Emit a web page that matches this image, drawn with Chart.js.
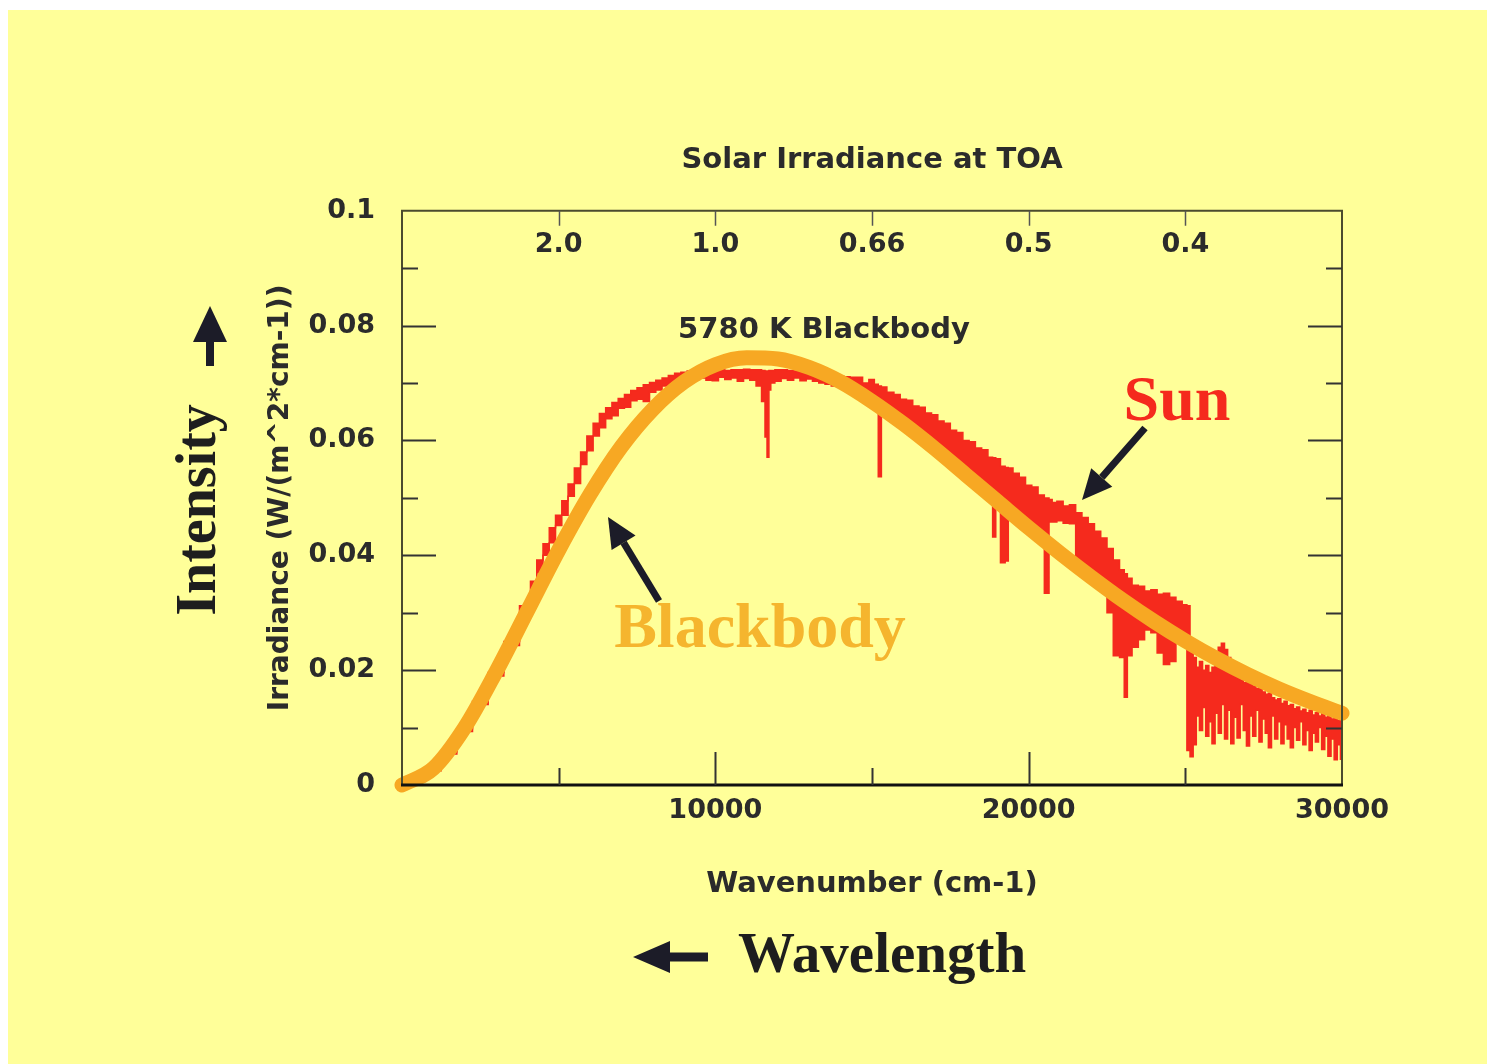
<!DOCTYPE html>
<html>
<head>
<meta charset="utf-8">
<script src="https://cdn.jsdelivr.net/npm/chart.js@4.4.1/dist/chart.umd.min.js"></script>
<style>
html,body{margin:0;padding:0;background:#fff;}
canvas{display:block;}
</style>
</head>
<body>
<canvas id="c" width="1487" height="1064"></canvas>
<script>
// ---------- tick values and labels ----------
const xTickValues = [10000, 20000, 30000];
const xTickLabels = ['10000', '20000', '30000'];
const xMinorTicks = [5000, 15000, 25000];
const yTickValues = [0, 0.02, 0.04, 0.06, 0.08, 0.1];
const yTickLabels = ['0', '0.02', '0.04', '0.06', '0.08', '0.1'];
const yMinorTicks = [0.01, 0.03, 0.05, 0.07, 0.09];
const topTickValues = [5000, 10000, 15000, 20000, 25000];
const topTickLabels = ['2.0', '1.0', '0.66', '0.5', '0.4'];   // wavelength (micron)

// ---------- 5780 K blackbody ----------
const bbWavenumber = [0,1000,2000,3000,4000,5000,6000,7000,8000,9000,10000,11000,12000,13000,14000,15000,
  16000,17000,18000,19000,20000,21000,22000,23000,24000,25000,26000,27000,28000,29000,30000];
const bbIrradiance = [0,0.0029,0.0100,0.0197,0.0303,0.0409,0.0506,0.0589,0.0654,0.0702,0.0732,0.0744,0.0742,0.0727,0.0702,0.0668,
  0.0629,0.0586,0.0540,0.0494,0.0448,0.0404,0.0362,0.0322,0.0285,0.0251,0.0220,0.0192,0.0167,0.0145,0.0125];

// ---------- Sun spectrum: upper and lower envelope ----------
const sunWavenumber = [
  0,500,1000,1500,2000,2500,3000,3500,4000,
  4200,4400,4600,4800,5000,5200,5400,5600,5800,6000,
  6200,6400,6600,6800,7000,7200,7400,7600,7800,8000,
  8200,8400,8600,8800,9000,
  9200,9400,9600,9800,10000,10200,10400,10600,10800,11000,
  11200,11400,11550,11620,11680,11740,11800,12000,12200,12400,
  12600,12800,13000,13200,13400,13600,13800,14000,14200,14400,
  14600,14800,15000,15150,15250,15350,15600,15800,16000,16200,
  16400,16600,16800,17000,17200,17400,17600,17800,18000,18200,
  18400,18600,18800,18900,19000,19200,19300,19400,19600,19800,
  20000,20200,20400,20600,20700,20800,21000,21200,21400,21600,
  21800,22000,22200,22400,22600,22800,23000,23100,23200,23400,
  23600,23800,24000,24200,24400,24600,24800,25000,
  25100,25200,25300,25400,25500,25600,25700,25800,25900,26000,
  26100,26200,26300,26400,26500,26600,26700,26800,26900,27000,
  27100,27200,27300,27400,27500,27600,27700,27800,27900,28000,
  28100,28200,28300,28400,28500,28600,28700,28800,28900,29000,
  29100,29200,29300,29400,29500,29600,29700,29800,29900,30000];
const sunHigh = [
  0,0.0008,0.0028,0.0058,0.0098,0.0146,0.0196,0.0250,0.0312,
  0.0355,0.0392,0.0420,0.0448,0.0470,0.0495,0.0524,0.0552,0.0580,0.0608,
  0.0630,0.0647,0.0657,0.0666,0.0673,0.0680,0.0687,0.0692,0.0697,0.0701,
  0.0705,0.0709,0.0713,0.0717,0.0719,
  0.0721,0.0722,0.0722,0.0723,0.0722,0.0723,0.0722,0.0723,0.0723,0.0724,
  0.0723,0.0723,0.0722,0.0721,0.0721,0.0722,0.0722,0.0723,0.0723,0.0722,
  0.0721,0.0720,0.0719,0.0717,0.0716,0.0714,0.0713,0.0712,0.0711,0.0710,
  0.0710,0.0700,0.0706,0.0698,0.0695,0.0693,0.0684,0.0680,0.0672,0.0670,
  0.0660,0.0658,0.0648,0.0645,0.0634,0.0630,0.0618,0.0614,0.0600,0.0598,
  0.0587,0.0584,0.0571,0.0570,0.0568,0.0555,0.0553,0.0552,0.0543,0.0536,
  0.0522,0.0519,0.0505,0.0500,0.0497,0.0492,0.0494,0.0486,0.0488,0.0474,
  0.0466,0.0455,0.0442,0.0430,0.0412,0.0392,0.0375,0.0368,0.0360,0.0348,
  0.0346,0.0338,0.0340,0.0332,0.0334,0.0327,0.0320,0.0314,
  0.0312,0.0230,0.0222,0.0205,0.0215,0.0200,0.0208,0.0196,0.0205,0.0215,
  0.0240,0.0247,0.0236,0.0222,0.0205,0.0195,0.0188,0.0183,0.0178,0.0182,
  0.0175,0.0172,0.0168,0.0170,0.0162,0.0158,0.0160,0.0152,0.0148,0.0150,
  0.0142,0.0146,0.0138,0.0140,0.0133,0.0136,0.0129,0.0132,0.0126,0.0130,
  0.0122,0.0126,0.0120,0.0124,0.0118,0.0122,0.0115,0.0118,0.0112,0.0115];
const sunLow = [
  0,0.0006,0.0025,0.0054,0.0093,0.0140,0.0190,0.0243,0.0300,
  0.0335,0.0370,0.0400,0.0422,0.0452,0.0470,0.0503,0.0525,0.0558,0.0582,
  0.0608,0.0622,0.0638,0.0643,0.0656,0.0658,0.0669,0.0672,0.0668,0.0684,
  0.0688,0.0695,0.0696,0.0703,0.0704,
  0.0708,0.0706,0.0709,0.0705,0.0704,0.0710,0.0706,0.0709,0.0703,0.0708,
  0.0705,0.0695,0.0668,0.0606,0.0571,0.0688,0.0700,0.0703,0.0708,0.0705,
  0.0709,0.0704,0.0707,0.0703,0.0700,0.0698,0.0695,0.0694,0.0690,0.0688,
  0.0688,0.0676,0.0668,0.0662,0.0537,0.0655,0.0645,0.0637,0.0629,0.0620,
  0.0612,0.0603,0.0595,0.0586,0.0577,0.0568,0.0559,0.0549,0.0540,0.0531,
  0.0522,0.0512,0.0503,0.0432,0.0494,0.0387,0.0390,0.0476,0.0466,0.0457,
  0.0448,0.0439,0.0430,0.0334,0.0458,0.0458,0.0460,0.0456,0.0455,0.0379,
  0.0370,0.0362,0.0354,0.0346,0.0300,0.0225,0.0222,0.0153,0.0225,0.0240,
  0.0253,0.0270,0.0265,0.0230,0.0210,0.0215,0.0250,0.0250,
  0.0060,0.0049,0.0070,0.0120,0.0095,0.0135,0.0085,0.0110,0.0072,0.0125,
  0.0090,0.0140,0.0080,0.0130,0.0072,0.0118,0.0082,0.0140,0.0095,0.0068,
  0.0120,0.0085,0.0130,0.0075,0.0115,0.0090,0.0065,0.0120,0.0080,0.0110,
  0.0072,0.0105,0.0080,0.0065,0.0100,0.0078,0.0110,0.0070,0.0095,0.0060,
  0.0090,0.0075,0.0100,0.0062,0.0085,0.0050,0.0080,0.0044,0.0070,0.0045];

// ---------- styles ----------
const RED = '#F52A1D';
const ORANGE = '#F7A823';
const TEXT = '#2b2b2b';
const SANS = 'DejaVu Sans';
const SERIF = 'Liberation Serif';

function arrow(ctx, x1, y1, x2, y2, w, headLen, headW, color) {
  const ang = Math.atan2(y2 - y1, x2 - x1);
  const bx = x2 - headLen * Math.cos(ang), by = y2 - headLen * Math.sin(ang);
  ctx.strokeStyle = color; ctx.lineWidth = w; ctx.lineCap = 'butt';
  ctx.beginPath(); ctx.moveTo(x1, y1); ctx.lineTo(bx, by); ctx.stroke();
  ctx.fillStyle = color;
  ctx.beginPath(); ctx.moveTo(x2, y2);
  ctx.lineTo(bx + headW * Math.sin(ang), by - headW * Math.cos(ang));
  ctx.lineTo(bx - headW * Math.sin(ang), by + headW * Math.cos(ang));
  ctx.closePath(); ctx.fill();
}

const decor = {
  id: 'decor',
  beforeDraw(chart) {
    const ctx = chart.ctx;
    ctx.save();
    ctx.fillStyle = '#ffffff'; ctx.fillRect(0, 0, chart.width, chart.height);
    ctx.fillStyle = '#FFFF99'; ctx.fillRect(8, 10, chart.width - 8, chart.height - 10);
    ctx.restore();
  },
  afterDatasetsDraw(chart) {
    const {ctx, chartArea: a, scales: {x, y}} = chart;
    ctx.save();
    // frame
    ctx.strokeStyle = '#4b4b2e'; ctx.lineWidth = 2;
    ctx.beginPath();
    ctx.moveTo(a.left, a.bottom); ctx.lineTo(a.left, a.top);
    ctx.lineTo(a.right, a.top); ctx.lineTo(a.right, a.bottom);
    ctx.stroke();
    ctx.strokeStyle = '#111'; ctx.lineWidth = 3;
    ctx.beginPath(); ctx.moveTo(a.left - 1, a.bottom); ctx.lineTo(a.right + 1, a.bottom); ctx.stroke();
    // inside ticks, y (left and right)
    ctx.strokeStyle = '#333'; ctx.lineWidth = 2;
    ctx.beginPath();
    yTickValues.filter(v => v > 0 && v < 0.1).forEach(v => {
      const py = Math.round(y.getPixelForValue(v)) + 0.5;
      ctx.moveTo(a.left, py); ctx.lineTo(a.left + 34, py);
      ctx.moveTo(a.right, py); ctx.lineTo(a.right - 34, py);
    });
    yMinorTicks.forEach(v => {
      const py = Math.round(y.getPixelForValue(v)) + 0.5;
      ctx.moveTo(a.left, py); ctx.lineTo(a.left + 16, py);
      ctx.moveTo(a.right, py); ctx.lineTo(a.right - 16, py);
    });
    // bottom ticks
    xTickValues.filter(v => v < 30000).forEach(v => {
      const px = Math.round(x.getPixelForValue(v)) + 0.5;
      ctx.moveTo(px, a.bottom); ctx.lineTo(px, a.bottom - 33);
    });
    xMinorTicks.forEach(v => {
      const px = Math.round(x.getPixelForValue(v)) + 0.5;
      ctx.moveTo(px, a.bottom); ctx.lineTo(px, a.bottom - 17);
    });
    ctx.stroke();
    // top ticks
    ctx.strokeStyle = '#555'; ctx.lineWidth = 1.5;
    ctx.beginPath();
    topTickValues.forEach(v => {
      const px = Math.round(x.getPixelForValue(v)) + 0.5;
      ctx.moveTo(px, a.top); ctx.lineTo(px, a.top + 15);
    });
    ctx.stroke();
    ctx.restore();
  },
  afterDraw(chart) {
    const {ctx, chartArea: a, scales: {x, y}} = chart;
    ctx.save();
    // top wavelength labels
    ctx.fillStyle = TEXT;
    ctx.font = `bold 27px "${SANS}"`;
    ctx.textAlign = 'center'; ctx.textBaseline = 'alphabetic';
    topTickValues.forEach((v, i) => ctx.fillText(topTickLabels[i], x.getPixelForValue(v), 252));
    // 5780 K Blackbody
    ctx.font = `bold 29px "${SANS}"`;
    ctx.fillText('5780 K Blackbody', 824, 338);
    // Sun
    ctx.font = `bold 64px "${SERIF}"`;
    ctx.fillStyle = RED;
    ctx.fillText('Sun', 1177, 420);
    // Blackbody
    ctx.fillStyle = '#F5B52E';
    ctx.fillText('Blackbody', 760, 647);
    // Wavelength
    ctx.fillStyle = '#1e1e1e';
    ctx.font = `bold 57px "${SERIF}"`;
    ctx.textAlign = 'left';
    ctx.fillText('Wavelength', 738, 972);
    // Intensity (rotated)
    ctx.save();
    ctx.translate(215, 510); ctx.rotate(-Math.PI / 2);
    ctx.font = `bold 56px "${SERIF}"`;
    ctx.textAlign = 'center';
    ctx.fillText('Intensity', 0, 0);
    ctx.restore();
    // arrows
    const AR = '#1c1c28';
    arrow(ctx, 210, 366, 210, 306, 8, 36, 17, AR);
    arrow(ctx, 708, 957, 633, 957, 9, 37, 16, AR);
    arrow(ctx, 1145, 428, 1082, 500, 7, 30, 14, AR);
    arrow(ctx, 659, 601, 608, 517, 7, 30, 14, AR);
    ctx.restore();
  }
};

const tickFont = {family: SANS, size: 27, weight: 'bold'};

new Chart(document.getElementById('c'), {
  type: 'line',
  data: {
    datasets: [
      {
        label: 'Sun (upper)',
        data: sunWavenumber.map((w, i) => ({x: w, y: sunHigh[i]})),
        borderColor: RED, backgroundColor: RED, borderWidth: 1.5,
        pointRadius: 0, stepped: 'middle', fill: false, order: 1
      },
      {
        label: 'Sun (lower)',
        data: sunWavenumber.map((w, i) => ({x: w, y: sunLow[i]})),
        borderColor: RED, backgroundColor: RED, borderWidth: 1.5,
        pointRadius: 0, stepped: 'middle', fill: '-1', order: 1
      },
      {
        label: '5780 K Blackbody',
        data: bbWavenumber.map((w, i) => ({x: w, y: bbIrradiance[i]})),
        borderColor: ORANGE, borderWidth: 15, borderCapStyle: 'round',
        pointRadius: 0, cubicInterpolationMode: 'monotone', fill: false,
        order: 0, clip: 10
      }
    ]
  },
  options: {
    responsive: false,
    animation: false,
    events: [],
    layout: {padding: {left: 0, top: 143, right: 145, bottom: 0}},
    plugins: {
      legend: {display: false},
      tooltip: {enabled: false},
      title: {
        display: true, text: 'Solar Irradiance at TOA', fullSize: false,
        color: TEXT, font: {family: SANS, size: 29, weight: 'bold'},
        padding: {top: 0, bottom: 33}
      }
    },
    scales: {
      x: {
        type: 'linear', min: 0, max: 30000,
        grid: {display: false, drawTicks: false},
        border: {display: false},
        afterBuildTicks: s => { s.ticks = xTickValues.map(v => ({value: v})); },
        ticks: {
          callback: (v, i) => xTickLabels[i],
          font: tickFont, color: TEXT, padding: 10,
          maxRotation: 0, minRotation: 0, autoSkip: false
        },
        title: {
          display: true, text: 'Wavenumber (cm-1)', color: TEXT,
          font: {family: SANS, size: 29, weight: 'bold'},
          padding: {top: 0, bottom: 162}
        },
        afterFit: s => { s.height = 279; }
      },
      y: {
        type: 'linear', min: 0, max: 0.1,
        grid: {display: false, drawTicks: false},
        border: {display: false},
        afterBuildTicks: s => { s.ticks = yTickValues.map(v => ({value: v})); },
        ticks: {
          callback: (v, i) => yTickLabels[i],
          font: tickFont, color: TEXT, padding: 27, autoSkip: false
        },
        title: {
          display: true, text: 'Irradiance (W/(m^2*cm-1))', color: TEXT,
          font: {family: SANS, size: 28, weight: 'bold'},
          padding: {top: 264, bottom: 0}
        },
        afterFit: s => { s.width = 402; }
      }
    }
  },
  plugins: [decor]
});
</script>
</body>
</html>
